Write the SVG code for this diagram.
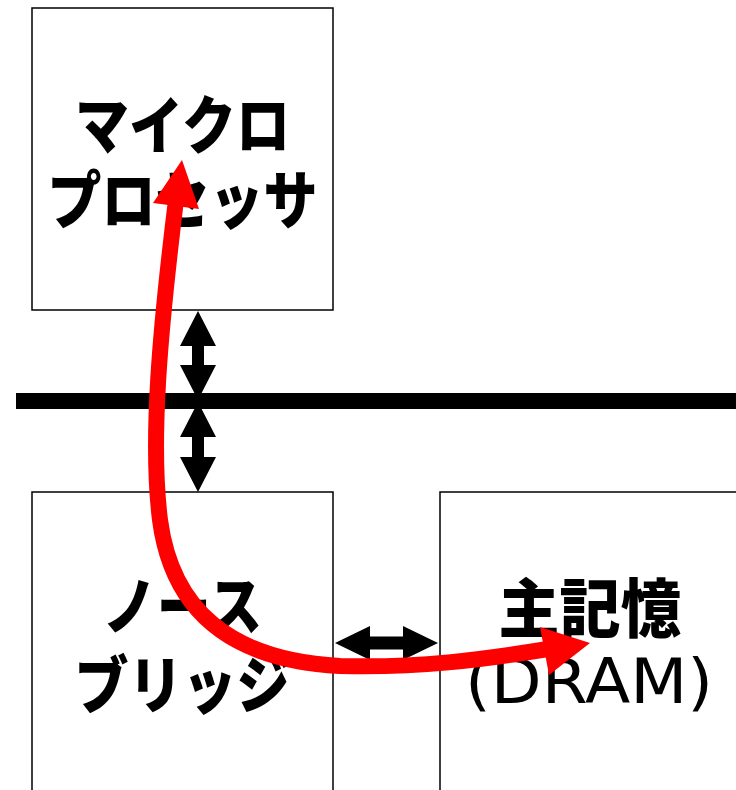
<svg xmlns="http://www.w3.org/2000/svg" width="736" height="790" viewBox="0 0 736 790">
<style>
.box{fill:#fff;stroke:#000;stroke-width:1.5}
.jp{font-family:"Noto Sans CJK JP","Noto Sans CJK SC",sans-serif;font-weight:900;font-size:54px;fill:#000;text-anchor:middle}
.lat{font-family:"DejaVu Sans",sans-serif;font-size:63px;fill:#000;text-anchor:middle}
.dbl{fill:#000}
.red{fill:none;stroke:#ff0000;stroke-width:16}
</style>
<rect width="736" height="790" fill="#fff"/>
<g id="microprocessor">
<rect class="box" x="32" y="8" width="301" height="302"/>
<text class="jp" transform="translate(182.5,148) scale(1,1.16)">マイクロ</text>
<text class="jp" transform="translate(182.5,223) scale(1,1.16)">プロセッサ</text>
</g>
<g id="bus">
<rect x="16" y="393" width="720" height="16" fill="#000"/>
</g>
<g id="northbridge">
<rect class="box" x="32" y="492" width="301" height="310"/>
<text class="jp" transform="translate(182.5,629) scale(1,1.16)">ノース</text>
<text class="jp" transform="translate(182.5,708) scale(1,1.16)">ブリッジ</text>
</g>
<g id="dram">
<rect class="box" x="440" y="492" width="310" height="310"/>
<text class="jp" transform="translate(590,632) scale(1,1.05)" style="font-size:61px">主記憶</text>
<text class="lat" x="589" y="703" textLength="248" lengthAdjust="spacingAndGlyphs">(DRAM)</text>
</g>
<g id="connectors">
<polygon class="dbl" points="198,311 216,346 204,346 204,365 216,365 198,400 180,365 192,365 192,346 180,346"/>
<polygon class="dbl" points="198,402 216,437 204,437 204,457 216,457 198,492 180,457 192,457 192,437 180,437"/>
<polygon class="dbl" points="335,643 370,626 370,636.5 403,636.5 403,626 438,643 403,660 403,649.5 370,649.5 370,660"/>
<path class="red" d="M176,200 C160,330 150,440 160,520 C172,610 230,660 340,666 C420,668 480,660 548,649"/>
<polygon fill="#ff0000" points="182,160 199,209 153,203"/>
<polygon fill="#ff0000" points="590,643 549,675 540,627"/>
</g>
</svg>
